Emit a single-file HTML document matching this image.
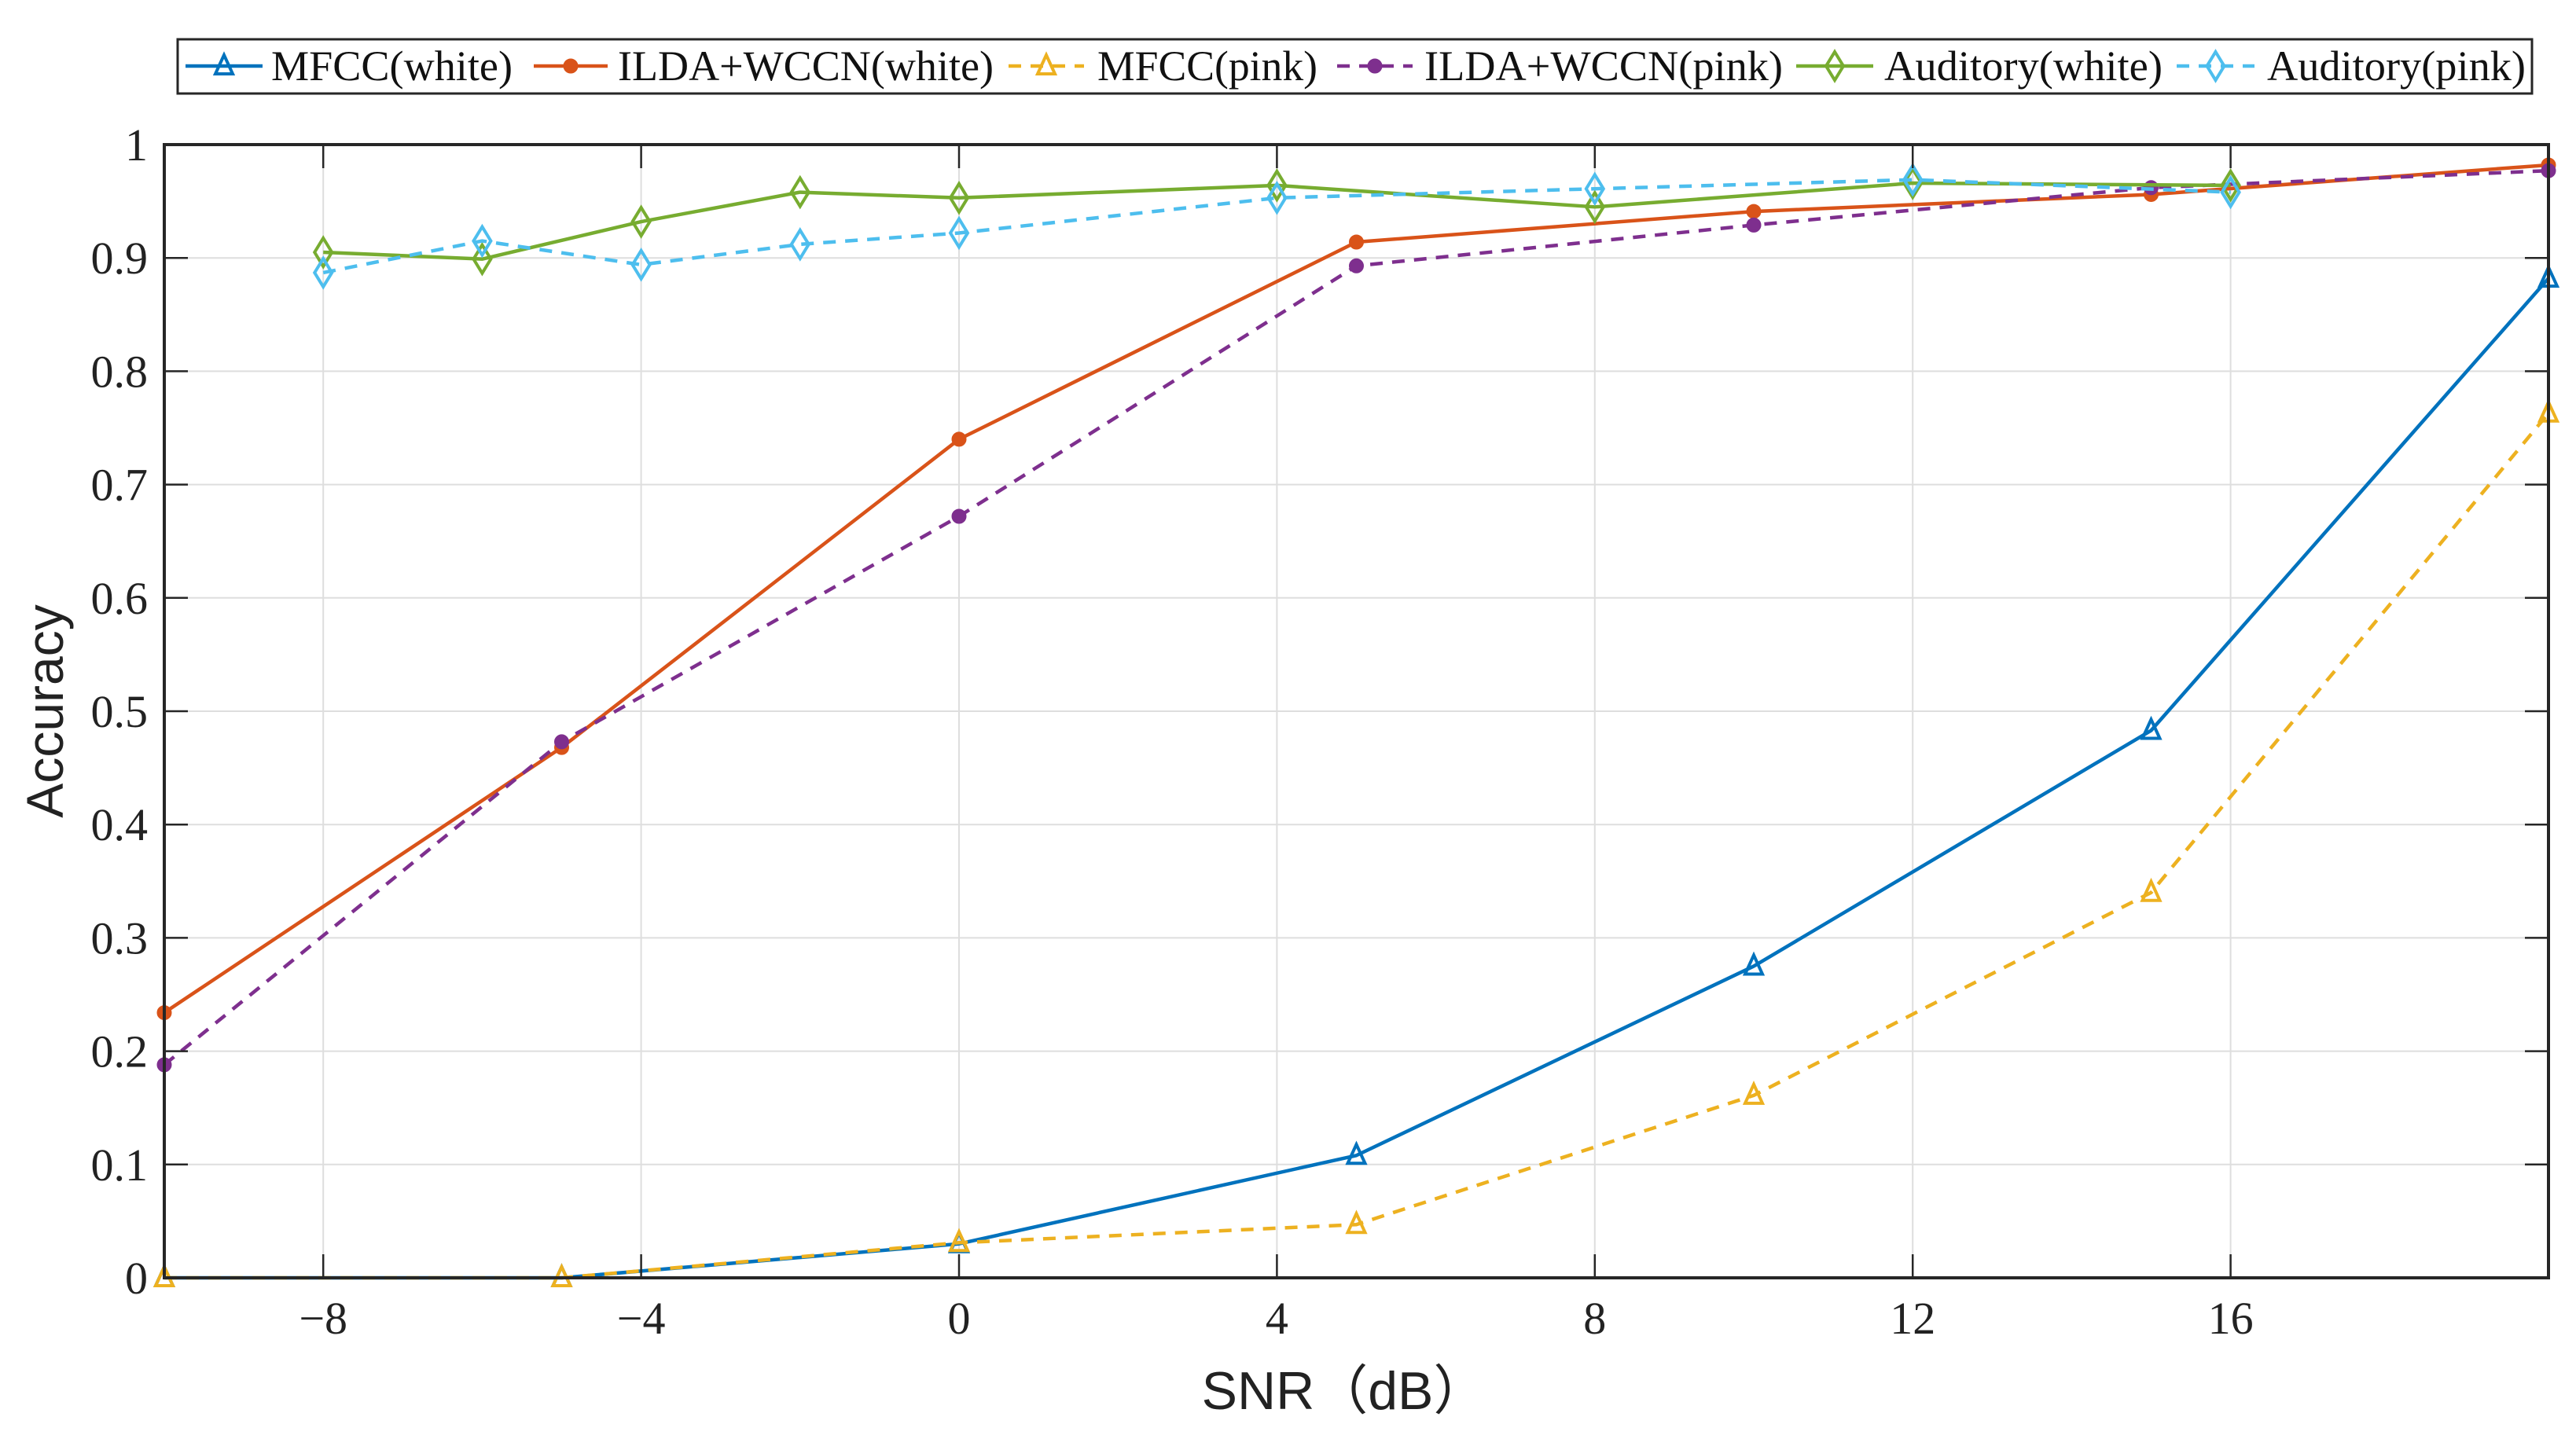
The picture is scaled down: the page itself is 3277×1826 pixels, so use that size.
<!DOCTYPE html>
<html><head><meta charset="utf-8"><style>
html,body{margin:0;padding:0;background:#fff}
svg{display:block}
</style></head><body>
<svg id="chart" width="3277" height="1826" viewBox="0 0 3277 1826" xmlns="http://www.w3.org/2000/svg">
<rect x="0" y="0" width="3277" height="1826" fill="#fff"/>
<g id="grid"></g>
<g id="series"></g>
<g id="axes"></g>
<text x="1710" y="1793" text-anchor="middle" font-family="'Liberation Sans','Noto Sans CJK SC',sans-serif" font-size="68" fill="#222">SNR（dB）</text>
<text transform="translate(80,905) rotate(-90)" text-anchor="middle" font-family="'Liberation Sans',sans-serif" font-size="66" fill="#222">Accuracy</text>
<g id="legend"></g>
</svg>
<script>
const snrMain = [-10, -5, 0, 5, 10, 15, 20];
const mfccWhite = [0, 0, 0.03, 0.108, 0.275, 0.483, 0.882];
const ildaWhite = [0.234, 0.468, 0.74, 0.914, 0.941, 0.956, 0.982];
const mfccPink = [0, 0, 0.031, 0.047, 0.161, 0.34, 0.763];
const ildaPink = [0.188, 0.473, 0.672, 0.893, 0.929, 0.962, 0.977];
const snrAud = [-8, -6, -4, -2, 0, 4, 8, 12, 16];
const audWhite = [0.905, 0.899, 0.932, 0.958, 0.953, 0.964, 0.945, 0.966, 0.964];
const audPink = [0.887, 0.915, 0.894, 0.912, 0.922, 0.953, 0.961, 0.969, 0.958];
const xTicks = [-8, -4, 0, 4, 8, 12, 16];
const xTickLabels = ['\u22128', '\u22124', '0', '4', '8', '12', '16'];
const yTicks = [0, 0.1, 0.2, 0.3, 0.4, 0.5, 0.6, 0.7, 0.8, 0.9, 1];
const yTickLabels = ['0', '0.1', '0.2', '0.3', '0.4', '0.5', '0.6', '0.7', '0.8', '0.9', '1'];
const seriesNames = ['MFCC(white)', 'ILDA+WCCN(white)', 'MFCC(pink)', 'ILDA+WCCN(pink)', 'Auditory(white)', 'Auditory(pink)'];

const NS = 'http://www.w3.org/2000/svg';
const L = 209, R = 3242, T = 184, B = 1626;
const xMin = -10, xMax = 20, yMin = 0, yMax = 1;
const xs = v => L + (v - xMin) / (xMax - xMin) * (R - L);
const ys = v => B - (v - yMin) / (yMax - yMin) * (B - T);
function mk(tag, attrs, parent) {
  const e = document.createElementNS(NS, tag);
  for (const k in attrs) e.setAttribute(k, attrs[k]);
  parent.appendChild(e);
  return e;
}
const grid = document.getElementById('grid');
const axes = document.getElementById('axes');
const series = document.getElementById('series');
const legend = document.getElementById('legend');

xTicks.forEach((t, i) => {
  const gl = mk('line', {x1: xs(t), x2: xs(t), y1: T, y2: B, stroke: '#dedede', 'stroke-width': 2}, grid);
  
  
  const tk1 = mk('line', {x1: xs(t), x2: xs(t), y1: B, y2: B - 30, stroke: '#262626', 'stroke-width': 2.5}, axes);
  
  
  const tk2 = mk('line', {x1: xs(t), x2: xs(t), y1: T, y2: T + 30, stroke: '#262626', 'stroke-width': 2.5}, axes);
  
  
  const lb = mk('text', {x: xs(t), y: 1697, 'text-anchor': 'middle', 'font-family': "'Liberation Serif',serif", 'font-size': 58, fill: '#222'}, axes);
  lb.textContent = xTickLabels[i];
  
  
});
yTicks.forEach((t, i) => {
  if (t > 0 && t < 1) {
    const gl = mk('line', {x1: L, x2: R, y1: ys(t), y2: ys(t), stroke: '#dedede', 'stroke-width': 2}, grid);
    
    
  }
  const tk = mk('line', {x1: L, x2: L + 30, y1: ys(t), y2: ys(t), stroke: '#262626', 'stroke-width': 2.5}, axes);
  
  
  const tk2 = mk('line', {x1: R, x2: R - 30, y1: ys(t), y2: ys(t), stroke: '#262626', 'stroke-width': 2.5}, axes);
  
  
  const lb = mk('text', {x: 188, y: ys(t) + 20, 'text-anchor': 'end', 'font-family': "'Liberation Serif',serif", 'font-size': 58, fill: '#222'}, axes);
  lb.textContent = yTickLabels[i];
  
  
});
const frame = mk('rect', {x: L, y: T, width: R - L, height: B - T, fill: 'none', stroke: '#262626', 'stroke-width': 4}, axes);



function marker(type, cx, cy, color, parent) {
  let m;
  if (type === 'tri') {
    m = mk('polygon', {points: `${cx},${cy - 14} ${cx - 11},${cy + 10} ${cx + 11},${cy + 10}`, fill: 'none', stroke: color, 'stroke-width': 4}, parent);
  } else if (type === 'dia') {
    m = mk('polygon', {points: `${cx},${cy - 18} ${cx + 11},${cy} ${cx},${cy + 18} ${cx - 11},${cy}`, fill: 'none', stroke: color, 'stroke-width': 4}, parent);
  } else {
    m = mk('circle', {cx: cx, cy: cy, r: 8, fill: color, stroke: color, 'stroke-width': 3}, parent);
  }
  
  
}
const defs = [
  {x: snrMain, y: mfccWhite, c: '#0072BD', dash: null, m: 'tri', name: 'mfcc-white-line'},
  {x: snrMain, y: ildaWhite, c: '#D95319', dash: null, m: 'star', name: 'ilda-wccn-white-line'},
  {x: snrMain, y: mfccPink, c: '#EDB120', dash: '16 12', m: 'tri', name: 'mfcc-pink-line'},
  {x: snrMain, y: ildaPink, c: '#7E2F8E', dash: '16 12', m: 'star', name: 'ilda-wccn-pink-line'},
  {x: snrAud, y: audWhite, c: '#77AC30', dash: null, m: 'dia', name: 'auditory-white-line'},
  {x: snrAud, y: audPink, c: '#4DBEEE', dash: '16 12', m: 'dia', name: 'auditory-pink-line'}
];
defs.forEach(d => {
  const pts = d.x.map((v, i) => xs(v) + ',' + ys(d.y[i])).join(' ');
  const a = {points: pts, fill: 'none', stroke: d.c, 'stroke-width': 4.5, 'stroke-linejoin': 'round'};
  if (d.dash) a['stroke-dasharray'] = d.dash;
  const pl = mk('polyline', a, series);
  
  
  d.x.forEach((v, i) => marker(d.m, xs(v), ys(d.y[i]), d.c, series));
});

// legend
const lbox = mk('rect', {x: 226, y: 50, width: 2995, height: 69, fill: '#fff', stroke: '#262626', 'stroke-width': 3}, legend);


const legX = [[236, 334, 345, 652], [679, 773, 786, 1264], [1283, 1379, 1396, 1676], [1701, 1797, 1812, 2268], [2285, 2383, 2397, 2751], [2769, 2868, 2884, 3213]];
defs.forEach((d, i) => {
  const g = mk('g', {}, legend);
  
  
  const p = legX[i];
  const a = {x1: p[0], x2: p[1], y1: 84, y2: 84, stroke: d.c, 'stroke-width': 4.5};
  if (d.dash) a['stroke-dasharray'] = d.dash;
  const ln = mk('line', a, g);
  
  
  marker(d.m, (p[0] + p[1]) / 2, 84, d.c, g);
  const tx = mk('text', {x: p[2], y: 102, 'font-family': "'Liberation Serif',serif", 'font-size': 54, fill: '#111', textLength: p[3] - p[2], lengthAdjust: 'spacingAndGlyphs'}, g);
  tx.textContent = seriesNames[i];
  
  
});
</script>
</body></html>
